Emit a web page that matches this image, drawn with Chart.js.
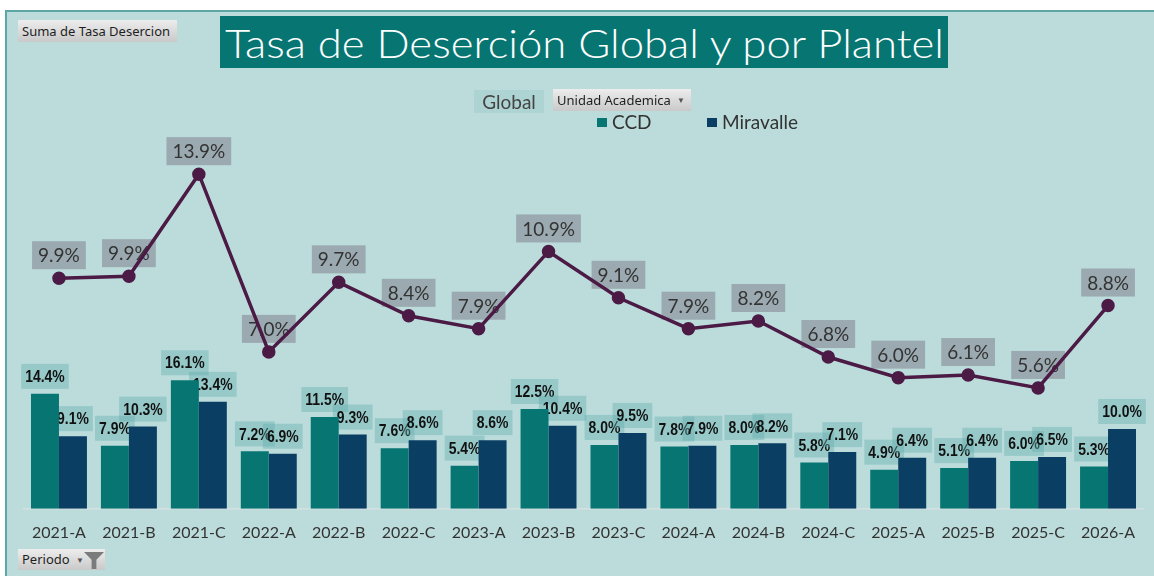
<!DOCTYPE html>
<html lang="es">
<head>
<meta charset="utf-8">
<title>Tasa de Deserción Global y por Plantel</title>
<script src="https://cdn.jsdelivr.net/npm/chart.js@4.4.1/dist/chart.umd.min.js"></script>
<style>
  html, body { margin: 0; padding: 0; background: #fff; }
  #wrap { position: relative; width: 1154px; height: 576px; overflow: hidden; }
  #frame { position: absolute; left: 5px; top: 10px; width: 1170px; height: 600px;
    background: #bcdcdc; border: 2px solid #5ea6a6; box-sizing: border-box; }
  #chart { position: absolute; left: 0; top: 0; }
  .btn { position: absolute; box-sizing: border-box; background: linear-gradient(#ededed, #c9c9c9);
    font: 13px "Noto Sans", sans-serif; color: #1e1e1e; line-height: 22px; padding-left: 4px; white-space: nowrap; }
  .arrow { position: absolute; font-size: 8px; color: #555; }
  #title { position: absolute; left: 220px; top: 16px; width: 728px; height: 52px; background: #077673; overflow: hidden; }
  #title span { position: absolute; left: 5px; top: 3px; font: 300 40px Lato, sans-serif; color: #fff;
    white-space: nowrap; transform-origin: 0 0; }
  .legend-text { position: absolute; font: 19px Lato, sans-serif; color: #333; white-space: nowrap; }
  .swatch { position: absolute; width: 10px; height: 9px; }
  #funnel { position: absolute; left: 84px; top: 552px; width: 20px; height: 17px; background: #7b7b7b;
    clip-path: polygon(0 0, 100% 0, 62% 45%, 62% 100%, 38% 100%, 38% 45%); }
</style>
</head>
<body>
<div id="wrap">
  <div id="frame"></div>
  <canvas id="chart" width="1154" height="576"></canvas>
  <div class="btn" style="left:18px;top:20px;width:159px;height:22px;">Suma de Tasa Desercion</div>
  <div id="title"><span id="title-text">Tasa de Deserción Global y por Plantel</span></div>
  <div class="legend-text" style="left:474px;top:90px;width:70px;height:23px;line-height:23px;text-align:center;background:rgba(150,195,195,0.35);color:#444;">Global</div>
  <div class="btn" style="left:553px;top:89px;width:138px;height:22px;">Unidad Academica<span class="arrow" style="left:124px;top:0;">▼</span></div>
  <div class="swatch" style="left:597px;top:118px;background:#077673;"></div>
  <div class="legend-text" style="left:612px;top:110px;">CCD</div>
  <div class="swatch" style="left:707px;top:118px;background:#0b3e63;"></div>
  <div class="legend-text" style="left:722px;top:110px;">Miravalle</div>
  <div class="btn" style="left:18px;top:549px;width:87px;height:21px;line-height:21px;">Periodo<span class="arrow" style="left:58px;top:0;">▼</span></div>
  <div id="funnel"></div>
</div>
<script>
// Datos del gráfico
const periodos = ["2021-A", "2021-B", "2021-C", "2022-A", "2022-B", "2022-C", "2023-A", "2023-B",
  "2023-C", "2024-A", "2024-B", "2024-C", "2025-A", "2025-B", "2025-C", "2026-A"];
const tasaCCD = [14.4, 7.9, 16.1, 7.2, 11.5, 7.6, 5.4, 12.5, 8.0, 7.8, 8.0, 5.8, 4.9, 5.1, 6.0, 5.3];
const tasaMiravalle = [9.1, 10.3, 13.4, 6.9, 9.3, 8.6, 8.6, 10.4, 9.5, 7.9, 8.2, 7.1, 6.4, 6.4, 6.5, 10.0];
const tasaGlobal = [9.86, 9.94, 13.9, 7.0, 9.7, 8.4, 7.9, 10.9, 9.1, 7.9, 8.2, 6.8, 6.0, 6.1, 5.6, 8.8];

// Ajusta el ancho del título al recuadro
const titleText = document.querySelector("#title-text");
titleText.style.transform = `scaleX(${719 / titleText.getBoundingClientRect().width})`;

// Dibuja una etiqueta con recuadro de fondo
function drawLabel(ctx, text, cx, bottom, opts) {
  ctx.font = opts.font;
  const w = ctx.measureText(text).width * opts.scaleX;
  const bw = w + opts.padX * 2;
  ctx.fillStyle = opts.box;
  ctx.fillRect(cx - bw / 2, bottom - opts.boxH, bw, opts.boxH);
  ctx.fillStyle = opts.color;
  ctx.textAlign = "center";
  ctx.textBaseline = "middle";
  ctx.save();
  ctx.translate(cx, bottom - opts.boxH / 2 + opts.dy);
  ctx.scale(opts.scaleX, 1);
  ctx.fillText(text, 0, 0);
  ctx.restore();
}

const barLabelStyle = { font: 'bold 17px "Liberation Sans Narrow", sans-serif', scaleX: 0.82, padX: 4,
  boxH: 25, box: "rgba(100,175,175,0.42)", color: "#111", dy: 1 };
const lineLabelStyle = { font: "19px Lato, sans-serif", scaleX: 1, padX: 6,
  boxH: 28, box: "rgba(128,128,140,0.55)", color: "#333", dy: 1 };

// Etiquetas de valor: barras (datasets 0 y 1) y línea (dataset 2)
const valueLabels = {
  id: "valueLabels",
  beforeDatasetsDraw(chart) {
    const ctx = chart.ctx;
    [0, 1].forEach((i) => {
      chart.getDatasetMeta(i).data.forEach((bar, j) => {
        const v = chart.data.datasets[i].data[j];
        drawLabel(ctx, v.toFixed(1) + "%", bar.x, bar.y - 5, barLabelStyle);
      });
    });
    chart.getDatasetMeta(2).data.forEach((pt, j) => {
      const v = chart.data.datasets[2].data[j];
      drawLabel(ctx, v.toFixed(1) + "%", pt.x, pt.y - 9, lineLabelStyle);
    });
  },
};

new Chart(document.querySelector("#chart"), {
  data: {
    labels: periodos,
    datasets: [
      { type: "bar", label: "CCD", data: tasaCCD, yAxisID: "y", order: 1,
        backgroundColor: "#077673", categoryPercentage: 0.8, barPercentage: 1.0 },
      { type: "bar", label: "Miravalle", data: tasaMiravalle, yAxisID: "y", order: 1,
        backgroundColor: "#0b3e63", categoryPercentage: 0.8, barPercentage: 1.0 },
      { type: "line", label: "Global", data: tasaGlobal, yAxisID: "y2", order: 0,
        borderColor: "#4b1a45", backgroundColor: "#4b1a45", borderWidth: 3.5,
        pointRadius: 5, pointHoverRadius: 5, tension: 0 },
    ],
  },
  options: {
    responsive: false,
    animation: false,
    layout: { padding: { left: 24, right: 11, top: 140, bottom: 28 } },
    plugins: { legend: { display: false }, tooltip: { enabled: false } },
    scales: {
      x: {
        offset: true,
        grid: { display: false },
        border: { color: "#d6e0e0", width: 1.5 },
        ticks: { color: "#333", font: { family: "Lato", size: 16 }, padding: 6,
          maxRotation: 0, autoSkip: false },
      },
      y: { display: false, min: 0, max: 46.2 },
      y2: { display: false, min: 0.907, max: 15.227 },
    },
  },
  plugins: [valueLabels],
});
</script>
</body>
</html>
